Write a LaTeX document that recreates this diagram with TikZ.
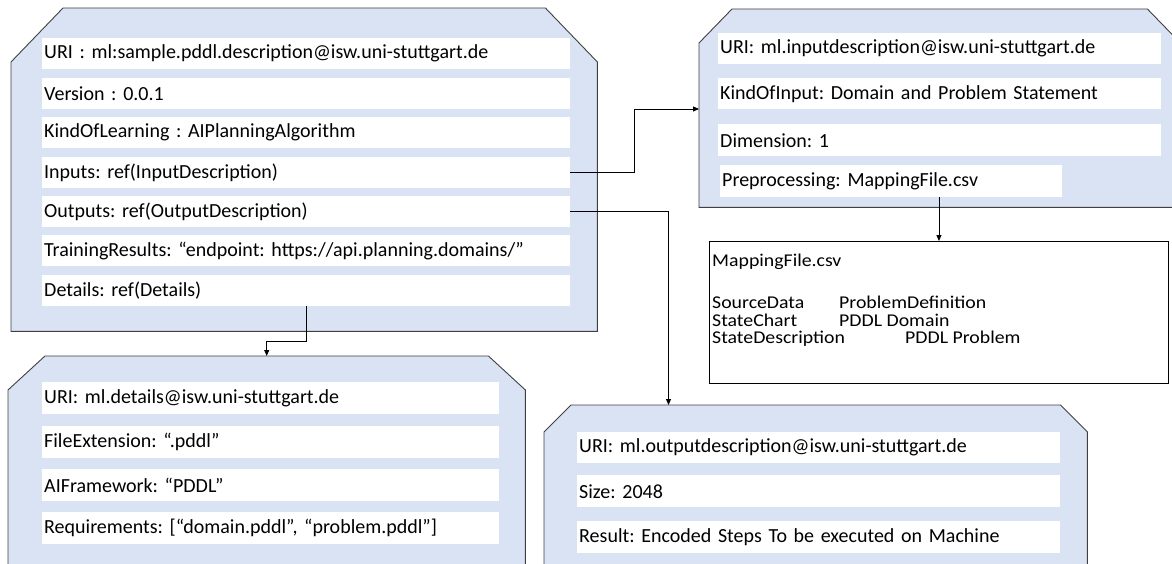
\documentclass[tikz,border=0pt]{standalone}
\usepackage{fontspec}
\setmainfont{Carlito}
\newfontfamily\mapfont{Carlito}[FakeStretch=1.1]
\usetikzlibrary{arrows.meta,calc}
\definecolor{cardfill}{HTML}{DAE3F3}
\definecolor{cardline}{HTML}{404040}
\newcommand\chamcard[3]{%
  \filldraw[cardedge] (#1.south west) -- ([yshift=-#3pt]#1.north west) -- ([xshift=#2pt]#1.north west)
    -- ([xshift=-#2pt]#1.north east) -- ([yshift=-#3pt]#1.north east) -- (#1.south east) -- cycle;}
\tikzset{
  cardbox/.style={anchor=north west, inner sep=0pt, draw=none},
  cardedge/.style={fill=cardfill, draw=cardline, line width=0.9pt},
  row/.style={fill=white, anchor=north west, inner xsep=2pt, inner ysep=0pt, minimum height=31pt,
    align=left, font=\fontsize{20}{24}\selectfont\frenchspacing},
  mapbox/.style={anchor=north west, inner sep=0pt, fill=white, draw=black, line width=0.9pt},
  txt/.style={anchor=base west, inner sep=0pt, text height=12pt, text depth=3pt,
    font=\mapfont\fontsize{18}{20}\selectfont\frenchspacing},
  conn/.style={draw=black, line width=0.9pt, -{Triangle[length=6pt,width=5pt]}},
}
\begin{document}
\frenchspacing
\begin{tikzpicture}[x=1pt,y=-1pt]
\useasboundingbox (0,0) rectangle (1172,564);
\clip (0,0) rectangle (1172,564);
% card 1
\node[cardbox, minimum width=586pt, minimum height=323pt] (c1) at (11,8) {};
\chamcard{c1}{52}{54}
\node[row, text width=524pt] (a1) at (42,38) {URI : ml:sample.pddl.description@isw.uni-stuttgart.de};
\node[row, text width=524pt] (a2) at (42,78) {Version : 0.0.1};
\node[row, text width=524pt] (a3) at (42,117) {KindOfLearning : AIPlanningAlgorithm};
\node[row, text width=524pt] (a4) at (42,157) {Inputs: ref(InputDescription)};
\node[row, text width=524pt] (a5) at (42,196) {Outputs: ref(OutputDescription)};
\node[row, text width=524pt] (a6) at (42,235) {TrainingResults: “endpoint: https://api.planning.domains/”};
\node[row, text width=524pt] (a7) at (42,275) {Details: ref(Details)};
% card 2
\node[cardbox, minimum width=481pt, minimum height=198pt] (c2) at (699,9) {};
\chamcard{c2}{33}{34}
\node[row, text width=439pt] (b1) at (718,33) {URI: ml.inputdescription@isw.uni-stuttgart.de};
\node[row, text width=439pt] (b2) at (718,78) {KindOfInput: Domain and Problem Statement};
\node[row, text width=439pt, minimum height=32pt] (b3) at (718,124) {Dimension: 1};
\node[row, text width=338pt, minimum height=32pt] (b4) at (720,165) {Preprocessing: MappingFile.csv};
% card 3
\node[cardbox, minimum width=517pt, minimum height=230pt] (c3) at (8,356) {};
\chamcard{c3}{37}{34}
\node[row, text width=453pt, minimum height=32pt] (d1) at (42,382) {URI: ml.details@isw.uni-stuttgart.de};
\node[row, text width=453pt, minimum height=32pt] (d2) at (42,426) {FileExtension: “.pddl”};
\node[row, text width=453pt, minimum height=32pt] (d3) at (42,469) {AIFramework: “PDDL”};
\node[row, text width=453pt, minimum height=32pt] (d4) at (42,512) {Requirements: [“domain.pddl”, “problem.pddl”]};
% card 4
\node[cardbox, minimum width=543pt, minimum height=200pt] (c4) at (544,405) {};
\chamcard{c4}{27}{27}
\node[row, text width=479pt] (e1) at (577,432) {URI: ml.outputdescription@isw.uni-stuttgart.de};
\node[row, text width=479pt, minimum height=32pt] (e2) at (577,475) {Size: 2048};
\node[row, text width=479pt, minimum height=32pt] (e3) at (577,521) {Result: Encoded Steps To be executed on Machine};
% mapping file
\node[mapbox, minimum width=459pt, minimum height=142pt] (m) at (709,241) {};
\node[txt] (m0) at (712,266) {MappingFile.csv};
\node[txt] (m1) at (712,308.5) {SourceData};
\node[txt] (m1b) at (839,308.5) {ProblemDefinition};
\node[txt] (m2) at (712,326) {StateChart};
\node[txt] (m2b) at (839,326) {PDDL Domain};
\node[txt] (m3) at (712,343.5) {StateDescription};
\node[txt] (m3b) at (905,343.5) {PDDL Problem};
% connectors
\coordinate (inE) at (699,109);
\coordinate (outE) at (668.5,405);
\draw[conn] (a4.east) -- ++(64,0) |- (inE);
\draw[conn] (a5.east) -| (outE);
\draw[conn] (a7.south) -- ++(0,35) -| (c3.north);
\draw[conn] (m.north |- b4.south) -- (m.north);
\end{tikzpicture}
\end{document}
